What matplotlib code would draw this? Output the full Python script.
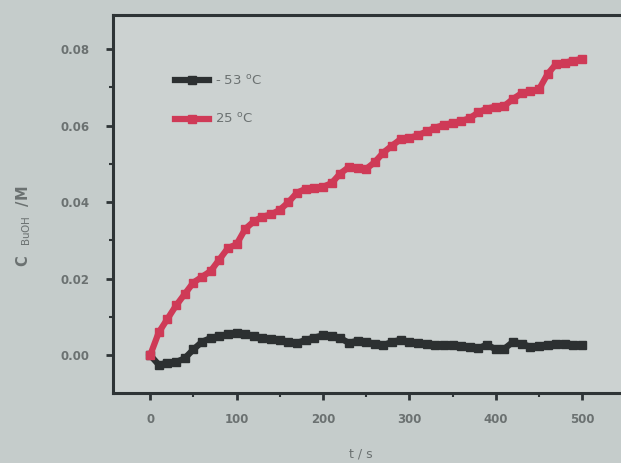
import numpy as np
import matplotlib.pyplot as plt

# sampling times (s)
t = np.arange(0, 510, 10)

# butanol concentration (M) at -53 C
c_cold = [0.0, -0.0025, -0.002, -0.0018, -0.0008, 0.0015, 0.0035, 0.0045, 0.005, 0.0055,
          0.0057, 0.0056, 0.005, 0.0045, 0.0042, 0.004, 0.0035, 0.0032, 0.004, 0.0046,
          0.0052, 0.005, 0.0045, 0.0032, 0.0038, 0.0035, 0.003, 0.0026, 0.0035, 0.004,
          0.0035, 0.0031, 0.0029, 0.0027, 0.0028, 0.0027, 0.0025, 0.0022, 0.0018, 0.0028,
          0.0015, 0.0017, 0.0035, 0.003, 0.0022, 0.0025, 0.0028, 0.003, 0.003, 0.0027,
          0.0027]

# butanol concentration (M) at 25 C
c_warm = [0.0, 0.006, 0.0095, 0.013, 0.016, 0.019, 0.0205, 0.022, 0.025, 0.028,
          0.029, 0.033, 0.035, 0.0362, 0.0368, 0.038, 0.040, 0.0425, 0.0435, 0.0436,
          0.044, 0.045, 0.0475, 0.0492, 0.049, 0.0487, 0.0505, 0.053, 0.0548, 0.0565,
          0.0568, 0.0575, 0.0585, 0.0595, 0.0602, 0.0607, 0.0612, 0.062, 0.0635, 0.0645,
          0.065, 0.0652, 0.067, 0.0685, 0.069, 0.0695, 0.0735, 0.0762, 0.0765, 0.077,
          0.0775]

labels = ['- 53 $^{\\mathrm{o}}$C', '25 $^{\\mathrm{o}}$C']

bg = '#c5cccb'
txt = '#6b7171'
spine = '#2e3436'

fig = plt.figure(figsize=(6.21, 4.63), dpi=100, facecolor=bg)
ax = fig.add_axes([0.182, 0.151, 0.85, 0.817])
ax.set_facecolor('#ccd2d1')

ax.plot(t, c_cold, color='#2c3031', lw=4.5, marker='s', ms=5.5, label=labels[0])
ax.plot(t, c_warm, color='#cf3a57', lw=4.5, marker='s', ms=5.5, label=labels[1])

ax.set_xlim(-43, 568)
ax.set_ylim(-0.0099, 0.089)
ax.set_xticks([0, 100, 200, 300, 400, 500])
ax.set_xticks(np.arange(50, 560, 100), minor=True)
ax.set_yticks([0.0, 0.02, 0.04, 0.06, 0.08])
ax.set_yticks([0.01, 0.03, 0.05, 0.07], minor=True)
ax.set_yticklabels(['0.00', '0.02', '0.04', '0.06', '0.08'])

for s in ax.spines.values():
    s.set_color(spine)
    s.set_linewidth(2.2)
ax.tick_params(which='major', direction='out', length=5, width=2, color=spine,
               labelcolor=txt, labelsize=8.5)
ax.tick_params(axis='x', which='major', pad=9)
ax.tick_params(axis='y', which='major', pad=12)
ax.tick_params(which='minor', direction='out', length=3, width=1.5, color=spine)
for lab in ax.get_xticklabels() + ax.get_yticklabels():
    lab.set_fontweight('bold')

ax.set_xlabel('t / s', color=txt, fontsize=9)
ax.xaxis.set_label_coords(0.47, -0.145)
ax.set_ylabel('C  $_{\\mathrm{BuOH}}$  /M', color=txt, fontsize=10.5, fontweight='bold')
ax.yaxis.set_label_coords(-0.152, 0.44)

leg = ax.legend(loc='upper left', bbox_to_anchor=(0.095, 0.875), frameon=False,
                handlelength=2.6, labelspacing=1.85, fontsize=9.5, handletextpad=0.4)
for tx in leg.get_texts():
    tx.set_color(txt)

fig.savefig('out.png', dpi=100, facecolor=bg)
